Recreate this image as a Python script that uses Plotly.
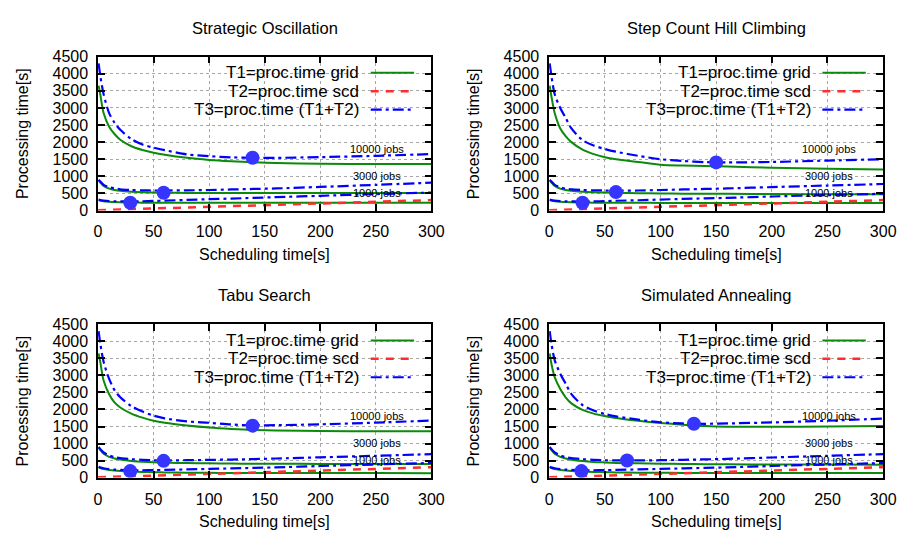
import plotly.graph_objects as go

# ---------------- data ----------------
TITLES = ["Strategic Oscillation", "Step Count Hill Climbing", "Tabu Search", "Simulated Annealing"]
JOB_LABELS = ["10000 jobs", "3000 jobs", "1000 jobs"]
LABEL_X = [251, 251, 251]
LABEL_Y = [1811, 1010, 505]
X_TICKS = [0, 50, 100, 150, 200, 250, 300]
Y_TICKS = [0, 500, 1000, 1500, 2000, 2500, 3000, 3500, 4000, 4500]

XS = [0.5, 2, 5, 10, 15, 20, 30, 40, 50, 60, 80, 100, 120, 140, 160, 200, 250, 300]

# Strategic Oscillation
so_t1_10000 = [3650, 3400, 2850, 2450, 2230, 2070, 1880, 1770, 1690, 1630, 1540, 1480, 1440, 1410, 1390, 1370, 1360, 1360]
so_t3_10000 = [4300, 3950, 3400, 2850, 2560, 2360, 2090, 1930, 1840, 1765, 1640, 1590, 1555, 1540, 1540, 1560, 1600, 1650]
so_t1_3000 = [880, 820, 720, 640, 600, 575, 550, 535, 525, 520, 515, 512, 511, 510, 510, 510, 510, 510]
so_t3_3000 = [900, 850, 750, 680, 645, 620, 600, 590, 585, 585, 590, 600, 615, 630, 645, 690, 750, 815]
so_t1_1000 = [300, 290, 270, 255, 245, 240, 232, 230, 228, 227, 226, 226, 225, 225, 225, 225, 225, 225]
so_t3_1000 = [320, 305, 290, 275, 270, 268, 265, 270, 280, 290, 310, 330, 350, 370, 390, 430, 480, 525]
so_dot_x = [29, 59, 139]
so_dot_y = [226, 518, 1545]

# Step Count Hill Climbing
sc_t1_10000 = [3650, 3350, 2850, 2400, 2170, 2000, 1780, 1650, 1560, 1500, 1420, 1340, 1315, 1300, 1285, 1250, 1220, 1200]
sc_t3_10000 = [4300, 3950, 3400, 3000, 2700, 2400, 2060, 1900, 1800, 1720, 1600, 1500, 1450, 1415, 1405, 1420, 1460, 1500]
sc_t1_3000 = [880, 820, 720, 640, 600, 575, 550, 535, 525, 515, 505, 498, 493, 490, 487, 482, 476, 472]
sc_t3_3000 = [900, 850, 750, 680, 640, 620, 600, 590, 585, 582, 585, 600, 615, 630, 645, 685, 730, 775]
sc_t1_1000 = [300, 290, 270, 255, 245, 240, 232, 230, 228, 226, 225, 223, 222, 221, 221, 220, 219, 218]
sc_t3_1000 = [320, 305, 290, 275, 268, 265, 262, 268, 275, 285, 300, 320, 340, 355, 370, 410, 450, 490]
sc_dot_x = [30, 60, 150]
sc_dot_y = [226, 538, 1407]

# Tabu Search
ts_t1_10000 = [3650, 3400, 2850, 2450, 2200, 2060, 1880, 1760, 1670, 1610, 1530, 1470, 1430, 1400, 1385, 1370, 1360, 1360]
ts_t3_10000 = [4300, 3950, 3400, 2900, 2560, 2360, 2100, 1940, 1820, 1740, 1650, 1610, 1560, 1535, 1540, 1565, 1615, 1675]
ts_t1_3000 = [880, 810, 700, 610, 560, 530, 490, 465, 450, 440, 425, 418, 412, 408, 405, 402, 400, 398]
ts_t3_3000 = [900, 840, 740, 650, 600, 570, 540, 520, 510, 505, 510, 520, 530, 545, 560, 595, 640, 690]
ts_t1_1000 = [300, 280, 250, 225, 205, 190, 175, 165, 158, 152, 145, 140, 137, 135, 134, 132, 131, 130]
ts_t3_1000 = [320, 300, 275, 250, 235, 225, 215, 215, 220, 225, 240, 255, 270, 285, 300, 340, 385, 428]
ts_dot_x = [29, 59, 139]
ts_dot_y = [190, 492, 1526]

# Simulated Annealing
sa_t1_10000 = [3650, 3350, 2950, 2600, 2350, 2180, 1990, 1880, 1810, 1750, 1670, 1605, 1555, 1515, 1495, 1490, 1500, 1515]
sa_t3_10000 = [4300, 3950, 3450, 3050, 2750, 2450, 2130, 1970, 1870, 1800, 1700, 1625, 1590, 1580, 1590, 1620, 1670, 1735]
sa_t1_3000 = [880, 810, 700, 610, 560, 525, 485, 460, 445, 432, 418, 408, 400, 395, 390, 385, 381, 379]
sa_t3_3000 = [900, 840, 740, 650, 600, 570, 540, 520, 510, 505, 503, 510, 522, 535, 550, 590, 640, 690]
sa_t1_1000 = [300, 280, 250, 225, 205, 190, 175, 165, 158, 152, 145, 141, 138, 136, 135, 134, 133, 133]
sa_t3_1000 = [320, 300, 275, 250, 235, 225, 215, 215, 220, 225, 240, 255, 270, 285, 300, 340, 385, 426]
sa_dot_x = [29, 70, 130]
sa_dot_y = [190, 502, 1583]

# T2 = proc.time scd (shared)
T2_X = [0, 50, 100, 150, 200, 250, 300]
T2_Y = [10, 55, 105, 155, 205, 255, 305]

LEGEND_TEXT = ["T1=proc.time grid", "T2=proc.time scd", "T3=proc.time (T1+T2)"]

PANELS = [
    (so_t1_10000, so_t3_10000, so_t1_3000, so_t3_3000, so_t1_1000, so_t3_1000, so_dot_x, so_dot_y),
    (sc_t1_10000, sc_t3_10000, sc_t1_3000, sc_t3_3000, sc_t1_1000, sc_t3_1000, sc_dot_x, sc_dot_y),
    (ts_t1_10000, ts_t3_10000, ts_t1_3000, ts_t3_3000, ts_t1_1000, ts_t3_1000, ts_dot_x, ts_dot_y),
    (sa_t1_10000, sa_t3_10000, sa_t1_3000, sa_t3_3000, sa_t1_1000, sa_t3_1000, sa_dot_x, sa_dot_y),
]

# ---------------- styling / layout ----------------
OFF = 8                      # default body margin of the page
W, H = 913 - 2 * OFF, 542 - 2 * OFF
FONT = "Liberation Sans, Arial, sans-serif"
GREEN = "#0b8a0b"
RED = "#ff2d2d"
BLUE = "#0000ff"
DOT = "#3535ff"
BLUE_DASH = "11px,4px,3px,4px"
RED_DASH = "8px,7px"

# plot areas in page pixels: (left, right, top, bottom)
AREAS = [(95.7, 435.5, 50, 209), (555.5, 896, 50, 209),
         (95.7, 435.5, 326.7, 485), (555.5, 896, 326.7, 485)]


def px(xp):
    return (xp - OFF) / W


def py(yp):
    return 1 - (yp - OFF) / H


fig = go.Figure()
layout = dict(
    width=W, height=H, margin=dict(l=0, r=0, t=0, b=0),
    paper_bgcolor="white", plot_bgcolor="white",
    showlegend=False, font=dict(family=FONT, color="black", size=16),
)
annotations = []
shapes = []

for i, (panel, area) in enumerate(zip(PANELS, AREAS)):
    k = i + 1
    xa = "x" if k == 1 else f"x{k}"
    ya = "y" if k == 1 else f"y{k}"
    l, r, t, b = area
    xdom = [px(l), px(r)]
    ydom = [py(b), py(t)]
    axis_common = dict(
        showline=True, linecolor="black", linewidth=1.5, mirror="ticks",
        ticks="inside", ticklen=7, tickwidth=1.5, tickcolor="black",
        showgrid=True, gridcolor="#a8a8a8", griddash="dot", gridwidth=1,
        zeroline=False,
    )
    layout["xaxis" if k == 1 else f"xaxis{k}"] = dict(
        axis_common, domain=xdom, anchor=ya, range=[0, 300],
        tickvals=X_TICKS, ticktext=[str(v) for v in X_TICKS],
        tickfont=dict(family=FONT, size=16, color="black"), ticklabelstandoff=6)
    layout["yaxis" if k == 1 else f"yaxis{k}"] = dict(
        axis_common, domain=ydom, anchor=xa, range=[0, 4500],
        tickvals=Y_TICKS, ticktext=[str(v) for v in Y_TICKS],
        tickfont=dict(family=FONT, size=16, color="black"), ticklabelstandoff=5)

    t1a, t3a, t1b, t3b, t1c, t3c, dx, dy = panel
    for t1 in (t1a, t1b, t1c):
        fig.add_trace(go.Scatter(x=XS, y=t1, mode="lines", xaxis=xa, yaxis=ya,
                                 line=dict(color=GREEN, width=2, shape="spline", smoothing=0.8)))
    fig.add_trace(go.Scatter(x=T2_X, y=T2_Y, mode="lines", xaxis=xa, yaxis=ya,
                             line=dict(color=RED, width=2.5, dash=RED_DASH)))
    for t3 in (t3a, t3b, t3c):
        fig.add_trace(go.Scatter(x=XS, y=t3, mode="lines", xaxis=xa, yaxis=ya,
                                 line=dict(color=BLUE, width=2.2, dash=BLUE_DASH, shape="spline", smoothing=0.8)))
    fig.add_trace(go.Scatter(x=dx, y=dy, mode="markers", xaxis=xa, yaxis=ya,
                             marker=dict(color=DOT, size=14, line=dict(width=0))))

    # job labels
    for lab, lx, ly in zip(JOB_LABELS, LABEL_X, LABEL_Y):
        annotations.append(dict(x=lx, y=ly, xref=xa, yref=ya, text=lab, showarrow=False,
                                font=dict(family=FONT, size=11, color="black"),
                                xanchor="center", yanchor="middle"))

    # subplot title
    annotations.append(dict(x=px((l + r) / 2), y=py(t - 30), xref="paper", yref="paper",
                            text=TITLES[i], showarrow=False, xanchor="center", yanchor="middle",
                            font=dict(family=FONT, size=16.5, color="black")))
    # x axis title
    annotations.append(dict(x=px((l + r) / 2), y=py(b + 45), xref="paper", yref="paper",
                            text="Scheduling time[s]", showarrow=False, xanchor="center", yanchor="middle",
                            font=dict(family=FONT, size=16, color="black")))
    # y axis title
    annotations.append(dict(x=px(l - 77), y=py((t + b) / 2), xref="paper", yref="paper",
                            text="Processing time[s]", showarrow=False, textangle=-90,
                            xanchor="center", yanchor="middle",
                            font=dict(family=FONT, size=16, color="black")))

    # custom legend (text on left, sample on right)
    dom_x = xa + " domain"
    dom_y = ya + " domain"
    rows = [0.895, 0.775, 0.655]
    styles = [dict(color=GREEN, width=2), dict(color=RED, width=2.5, dash=RED_DASH),
              dict(color=BLUE, width=2.2, dash=BLUE_DASH)]
    for txt, ry, st in zip(LEGEND_TEXT, rows, styles):
        annotations.append(dict(x=0.79, y=ry, xref=dom_x, yref=dom_y, text=txt, showarrow=False,
                                xanchor="right", yanchor="middle",
                                font=dict(family=FONT, size=17, color="black")))
        shapes.append(dict(type="line", xref=dom_x, yref=dom_y, x0=0.818, x1=0.948, y0=ry, y1=ry,
                           line=st))

layout["annotations"] = annotations
layout["shapes"] = shapes
fig.update_layout(**layout)
fig.write_html("out.html", config={"displayModeBar": False})
